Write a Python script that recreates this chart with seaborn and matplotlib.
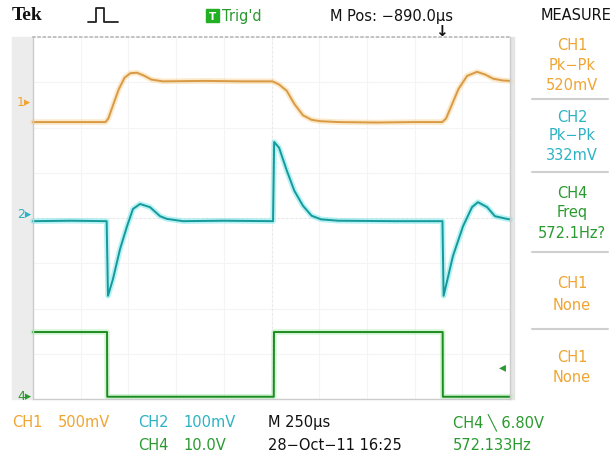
import numpy as np
import pandas as pd
import matplotlib
matplotlib.use("Agg")
import matplotlib.pyplot as plt
import seaborn as sns

# ---- data (time in µs, level in screen divisions) ----
ch1_t = [0, 380, 395, 420, 450, 480, 510, 545, 580, 620, 680, 900, 1100, 1255,
         1290, 1330, 1370, 1415, 1460, 1504, 1600, 1800, 2000, 2145, 2165, 2195,
         2230, 2275, 2327, 2370, 2411, 2460, 2500]
ch1_v = [2.12, 2.12, 2.2, 2.5, 2.85, 3.1, 3.2, 3.21, 3.15, 3.06, 3.02, 3.03, 3.02, 3.02,
         2.95, 2.81, 2.52, 2.27, 2.17, 2.14, 2.12, 2.11, 2.12, 2.12, 2.2, 2.5,
         2.85, 3.14, 3.23, 3.17, 3.08, 3.04, 3.03]

ch2_t = [0, 200, 386, 393, 419, 456, 493, 524, 561, 613, 666, 702, 786, 1000, 1258,
         1264, 1290, 1330, 1370, 1415, 1460, 1510, 1600, 1900, 2146, 2152, 2201,
         2254, 2301, 2332, 2380, 2421, 2484, 2500]
ch2_v = [-0.07, -0.06, -0.07, -1.72, -1.35, -0.69, -0.18, 0.20, 0.31, 0.24, 0.04, -0.02, -0.07, -0.06, -0.07,
         1.68, 1.55, 1.05, 0.60, 0.27, 0.05, -0.03, -0.06, -0.07, -0.07, -1.72, -0.84,
         -0.18, 0.24, 0.35, 0.24, 0.04, -0.02, -0.03]

ch4_t = [0, 388, 389, 1262, 1263, 2147, 2148, 2500]
ch4_v = [-2.52, -2.52, -3.95, -3.95, -2.52, -2.52, -3.95, -3.95]

channels = ["CH1", "CH2", "CH4"]
line_colors = {"CH1": "#d99a45", "CH2": "#16999b", "CH4": "#1d8a22"}
glow_colors = {"CH1": "#f8cf8a", "CH2": "#5fe3e6", "CH4": "#9eea9e"}

df = pd.concat([
    pd.DataFrame({"t": ch1_t, "v": ch1_v, "ch": "CH1"}),
    pd.DataFrame({"t": ch2_t, "v": ch2_v, "ch": "CH2"}),
    pd.DataFrame({"t": ch4_t, "v": ch4_v, "ch": "CH4"}),
], ignore_index=True)

# text content
top_texts = ["Tek", "Trig'd", "M Pos: −890.0µs", "MEASURE"]
measure_blocks = [("CH1", "Pk−Pk", "520mV"), ("CH2", "Pk−Pk", "332mV"),
                  ("CH4", "Freq", "572.1Hz?"), ("CH1", "None", None), ("CH1", "None", None)]

ORANGE_T = "#f0a431"
CYAN_T = "#2bb3c4"
GREEN_T = "#2a9a30"

sns.set_theme(style="white")
plt.rcParams['font.family'] = ['DejaVu Sans']

W, H = 613, 464
fig = plt.figure(figsize=(W / 100, H / 100), dpi=100, facecolor="white")

def fx(x):
    return x / W

def fy(y):
    return 1 - y / H

# side strips
fig.add_artist(plt.Rectangle((fx(12), fy(400)), fx(21), (400 - 38) / H,
                             transform=fig.transFigure, color="#ececec", zorder=0))
fig.add_artist(plt.Rectangle((fx(510), fy(400)), fx(4), (400 - 38) / H,
                             transform=fig.transFigure, color="#e4e4e4", zorder=0))

ax = fig.add_axes([fx(33), fy(400), fx(510 - 33), (400 - 38) / H])
ax.set_facecolor("white")

# graticule
for gx in np.arange(0, 2501, 250):
    ax.axvline(gx, color="#f4f4f4", lw=0.8, zorder=0)
for gy in np.arange(-4, 5, 1):
    ax.axhline(gy, color="#f4f4f4", lw=0.8, zorder=0)
ax.axvline(1250, color="#e2e2e2", lw=0.8, ls=(0, (1, 3)), zorder=0)
ax.axhline(0, color="#e2e2e2", lw=0.8, ls=(0, (1, 3)), zorder=0)

sns.lineplot(data=df, x="t", y="v", hue="ch", palette=glow_colors, sort=False,
             estimator=None, lw=4.0, alpha=0.45, legend=False, ax=ax)
sns.lineplot(data=df, x="t", y="v", hue="ch", palette=line_colors, sort=False,
             estimator=None, lw=1.4, legend=False, ax=ax)

ax.set_xlim(0, 2500)
ax.set_ylim(-4, 4)
ax.set_xticks([])
ax.set_yticks([])
ax.set_xlabel("")
ax.set_ylabel("")
for s in ["left", "right", "bottom"]:
    ax.spines[s].set_color("#cccccc")
    ax.spines[s].set_linewidth(1.0)
ax.spines["top"].set_color("#bbbbbb")
ax.spines["top"].set_linestyle((0, (1, 2)))
for l in ax.lines:
    l.set_clip_on(False)

def T(x, y, s, color="black", size=10.5, ha="left", **kw):
    fig.text(fx(x), fy(y), s, color=color, fontsize=size, ha=ha, va="center",
             family="DejaVu Sans", **kw)

# top bar
fig.text(fx(12), fy(16), top_texts[0], fontsize=14, fontweight="bold", family="Liberation Serif",
         va="center", ha="left", color="#111111")
# pulse icon (symbol has no installed glyph, drawn as shape)
px = [88, 96, 96, 104, 104, 118]
py = [23, 23, 9, 9, 23, 23]
fig.add_artist(plt.Line2D([fx(v) for v in px], [fy(v) for v in py], transform=fig.transFigure,
                          color="#222222", lw=1.3))
fig.add_artist(plt.Rectangle((fx(206), fy(23)), fx(13), 13 / H, transform=fig.transFigure,
                             color="#22b022", zorder=2))
T(212.5, 16.5, "T", color="white", size=7.5, ha="center", fontweight="bold")
T(222, 16, top_texts[1], color=GREEN_T, size=10.5)
T(330, 16, top_texts[2], color="#111111", size=10.5)
T(541, 16, top_texts[3], color="#111111", size=10.5)
T(441, 31, "↓", color="#111111", size=11, ha="center", fontweight="bold")

# channel ground markers
T(31, 102, "1▸", color=ORANGE_T, size=9, ha="right")
T(31, 215, "2▸", color=CYAN_T, size=9, ha="right")
T(31, 397, "4▸", color=GREEN_T, size=9, ha="right")
T(506, 367, "◂", color=GREEN_T, size=10, ha="right")

# measure panel
cx = 572
blocks_y = [(45, 65, 85), (117, 136, 156), (194, 213, 233), (283, 305, None), (358, 378, None)]
block_colors = [ORANGE_T, CYAN_T, GREEN_T, ORANGE_T, ORANGE_T]
for (a, b, c), ys, col in zip(measure_blocks, blocks_y, block_colors):
    T(cx, ys[0], a, color=col, size=10.5, ha="center")
    T(cx, ys[1], b, color=col, size=10.5, ha="center")
    if c is not None:
        T(cx, ys[2], c, color=col, size=10.5, ha="center")
for sy in [100, 173, 253, 330]:
    fig.add_artist(plt.Line2D([fx(532), fx(608)], [fy(sy), fy(sy)], transform=fig.transFigure,
                              color="#cfcfcf", lw=1.5))

# bottom readouts
T(12, 423, "CH1", color=ORANGE_T)
T(58, 423, "500mV", color=ORANGE_T)
T(138, 423, "CH2", color=CYAN_T)
T(183, 423, "100mV", color=CYAN_T)
T(268, 423, "M 250µs", color="#111111")
T(453, 423, "CH4 ╲ 6.80V", color=GREEN_T)
T(138, 446, "CH4", color=GREEN_T)
T(183, 446, "10.0V", color=GREEN_T)
T(268, 446, "28−Oct−11 16:25", color="#111111")
T(453, 446, "572.133Hz", color=GREEN_T)

fig.savefig("out.png", dpi=100, facecolor=fig.get_facecolor())
